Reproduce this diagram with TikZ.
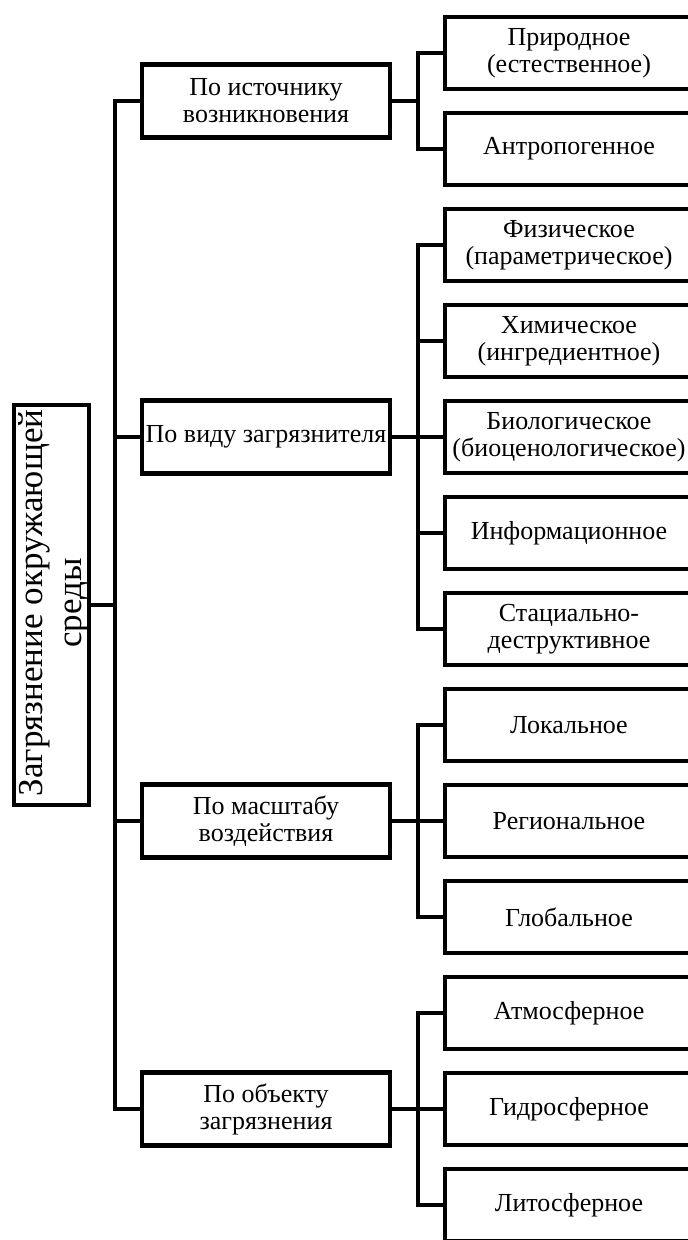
\documentclass[tikz,border=0pt]{standalone}
\usepackage{fontspec}
\setmainfont{Liberation Serif}
\begin{document}
\begin{tikzpicture}[x=1pt,y=-1pt,
  conn/.style={draw=black, line width=4.8pt, line join=miter},
  basebox/.style={draw=black, line width=4.8pt, rectangle, inner sep=0pt, align=center,
    font=\fontsize{26}{27}\selectfont},
  midbox/.style={basebox, minimum width=248pt, minimum height=73pt},
  leafbox/.style={basebox, minimum width=248pt, minimum height=72pt},
  rootbox/.style={draw=black, line width=4.8pt, rectangle, minimum width=75pt, minimum height=400pt}]
\useasboundingbox (0,0) rectangle (688,1240);
\clip (0,0) rectangle (688,1240);
% root
\node[rootbox] (root) at (51.5,605) {};
\node[rotate=90, align=center, inner sep=0pt, font=\fontsize{35}{39}\selectfont] (roottxt) at (53.5,603) {Загрязнение окружающей\\среды};
% middle level
\node[midbox] (m1) at (266,101) {По источнику\\возникновения};
\node[midbox] (m2) at (266,437) {По виду загрязнителя};
\node[midbox] (m3) at (266,821) {По масштабу\\воздействия};
\node[midbox] (m4) at (266,1109) {По объекту\\загрязнения};
% leaves
\node[leafbox] (r0) at (569,53) {Природное\\(естественное)};
\node[leafbox] (r1) at (569,149) {Антропогенное};
\node[leafbox] (r2) at (569,245) {Физическое\\(параметрическое)};
\node[leafbox] (r3) at (569,341) {Химическое\\(ингредиентное)};
\node[leafbox] (r4) at (569,437) {Биологическое\\(биоценологическое)};
\node[leafbox] (r5) at (569,533) {Информационное};
\node[leafbox] (r6) at (569,629) {Стациально-\\деструктивное};
\node[leafbox] (r7) at (569,725) {Локальное};
\node[leafbox] (r8) at (569,821) {Региональное};
\node[leafbox] (r9) at (569,917) {Глобальное};
\node[leafbox] (r10) at (569,1013) {Атмосферное};
\node[leafbox] (r11) at (569,1109) {Гидросферное};
\node[leafbox] (r12) at (569,1205) {Литосферное};
% trunk
\coordinate (t) at (115,0);
\coordinate (s) at (418,0);
\draw[conn] (m1.west) -- (m1.west -| t) -- (m4.west -| t) -- (m4.west);
\draw[conn] (m2.west) -- (m2.west -| t);
\draw[conn] (m3.west) -- (m3.west -| t);
\draw[conn] (root.east) -- (root.east -| t);
% groups
\draw[conn] (r0.west) -- (r0.west -| s) -- (r1.west -| s) -- (r1.west);
\draw[conn] (m1.east) -- (m1.east -| s);
\draw[conn] (r2.west) -- (r2.west -| s) -- (r6.west -| s) -- (r6.west);
\draw[conn] (m2.east) -- (r4.west);
\draw[conn] (r3.west) -- (r3.west -| s);
\draw[conn] (r5.west) -- (r5.west -| s);
\draw[conn] (r7.west) -- (r7.west -| s) -- (r9.west -| s) -- (r9.west);
\draw[conn] (m3.east) -- (r8.west);
\draw[conn] (r10.west) -- (r10.west -| s) -- (r12.west -| s) -- (r12.west);
\draw[conn] (m4.east) -- (r11.west);
\end{tikzpicture}
\end{document}
